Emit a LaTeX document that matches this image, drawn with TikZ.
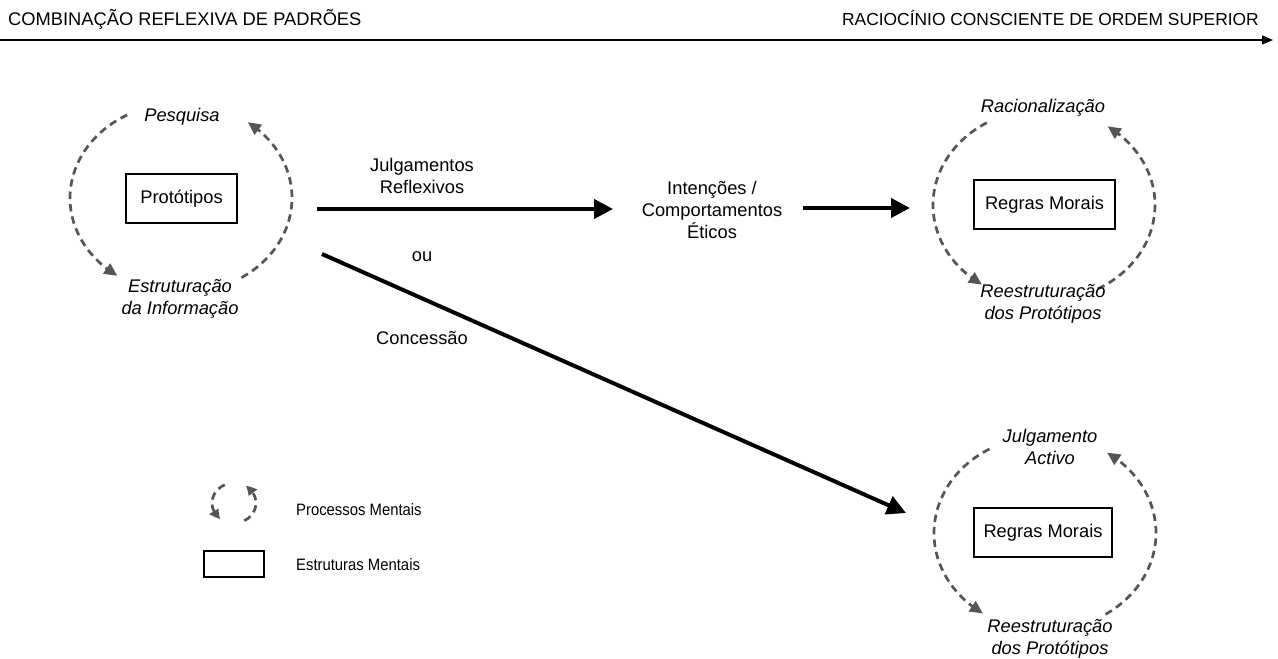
\documentclass[tikz,border=0pt]{standalone}
\usepackage{fontspec}
\setmainfont{Liberation Sans}
\newfontfamily\legendfont[FakeStretch=0.9]{Liberation Sans}
\usetikzlibrary{arrows.meta,bending,calc}
\definecolor{cycgray}{HTML}{555555}
\begin{document}
\begin{tikzpicture}[x=1pt,y=1pt,
  every node/.style={font=\fontsize{18.3}{22}\selectfont, inner sep=0pt},
  structbox/.style={draw, line width=2pt, fill=white, minimum height=49pt},
  cycarc/.style={draw=cycgray, line width=2.7pt, dash pattern=on 7.5pt off 5pt,
    -{Triangle[length=13pt,width=12pt,fill=cycgray]}},
  smallcyc/.style={cycarc, -{Triangle[length=10pt,width=10pt,fill=cycgray,bend]}},
  flow/.style={line width=4pt, -{Triangle[length=19pt,width=19pt]}},
  proc/.style={font=\fontsize{18.3}{22}\selectfont\itshape, align=center},
  lbl/.style={align=center},
  legtext/.style={font=\fontsize{16.5}{20}\legendfont, anchor=west}
]
\useasboundingbox (0,0) rectangle (1278,659);

% axis from reflexive matching to conscious reasoning
\coordinate (axL) at (0,619);
\coordinate (axR) at (1273,619);
\draw[line width=1.5pt, -{Triangle[length=11pt,width=9pt]}] (axL) -- (axR);
\node[anchor=base west] (hleft) at (8,633) {COMBINAÇÃO REFLEXIVA DE PADRÕES};
\node[anchor=base east, font=\fontsize{17.4}{21}\selectfont] (hright) at (1259,633) {RACIOCÍNIO CONSCIENTE DE ORDEM SUPERIOR};

% left cycle: prototypes
\coordinate (lc) at (181,461);
\draw[cycarc] ($(lc)+(119:111 and 95)$) arc[start angle=119, end angle=235, x radius=111, y radius=95];
\draw[cycarc] ($(lc)+(-57:111 and 95)$) arc[start angle=-57, end angle=53, x radius=111, y radius=95];
\node[structbox, minimum width=111pt] (proto) at (181.5,460) {Protótipos};
\node[proc] (pesq) at (182,542) {Pesquisa};
\node[proc] (estr) at (180,360) {Estruturação\\da Informação};

% upper right cycle: rationalisation
\coordinate (rc) at (1044,454);
\draw[cycarc] ($(rc)+(121:111 and 96)$) arc[start angle=121, end angle=236, x radius=111, y radius=96];
\draw[cycarc] ($(rc)+(-61:111 and 96)$) arc[start angle=-61, end angle=55, x radius=111, y radius=96];
\node[structbox, minimum width=141pt] (rm1) at (1044.5,454) {Regras Morais};
\node[proc] (racio) at (1043,551) {Racionalização};
\node[proc] (reest1) at (1043,355) {Reestruturação\\dos Protótipos};

% lower right cycle: active judgement
\coordinate (bc) at (1045,126);
\draw[cycarc] ($(bc)+(120:111 and 97)$) arc[start angle=120, end angle=236, x radius=111, y radius=97];
\draw[cycarc] ($(bc)+(-57:111 and 97)$) arc[start angle=-57, end angle=56, x radius=111, y radius=97];
\node[structbox, minimum width=138pt] (rm2) at (1043,126) {Regras Morais};
\node[proc] (julg) at (1050,212) {Julgamento\\Activo};
\node[proc] (reest2) at (1050,20) {Reestruturação\\dos Protótipos};

% flows
\coordinate (a1s) at (317,450);
\coordinate (a1e) at (613,450);
\draw[flow] (a1s) -- (a1e);
\node[lbl] (jr) at (422,483) {Julgamentos\\Reflexivos};
\node[lbl] (int) at (712,449) {Intenções /\\Comportamentos\\Éticos};
\coordinate (a2s) at (803,451);
\coordinate (a2e) at (910,451);
\draw[flow] (a2s) -- (a2e);
\node[lbl] (ou) at (422,402) {ou};
\coordinate (a3s) at (322,405);
\coordinate (a3e) at (906,146);
\draw[flow] (a3s) -- (a3e);
\node[lbl] (conc) at (422,321) {Concessão};

% legend
\coordinate (lg) at (234,156);
\draw[smallcyc] ($(lg)+(115:22 and 20)$) arc[start angle=115, end angle=232, x radius=22, y radius=20];
\draw[smallcyc] ($(lg)+(-62:22 and 20)$) arc[start angle=-62, end angle=58, x radius=22, y radius=20];
\node[legtext] (legproc) at (296,149) {Processos Mentais};
\node[draw, line width=2pt, minimum width=60pt, minimum height=26pt] (legbox) at (234,95) {};
\node[legtext] (legstruct) at (296,94) {Estruturas Mentais};
\end{tikzpicture}
\end{document}
